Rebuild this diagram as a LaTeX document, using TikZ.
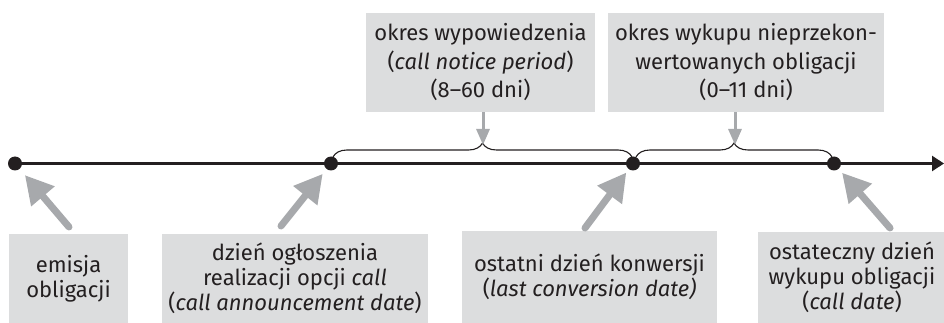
\documentclass[tikz,border=0pt]{standalone}
\usepackage{fontspec}
\setmainfont{Fira Sans}
\usetikzlibrary{arrows.meta,decorations.pathreplacing}
\definecolor{boxgray}{RGB}{220,221,222}
\definecolor{pointergray}{RGB}{167,169,172}
\definecolor{ink}{RGB}{35,31,32}

\begin{document}
\begin{tikzpicture}[x=1pt,y=-1pt,
  infobox/.style={fill=boxgray, inner sep=0pt, align=center, text=ink,
    font=\fontsize{22}{25}\selectfont},
  topbox/.style={infobox, font=\fontsize{22}{28.5}\selectfont},
  dot/.style={circle, fill=ink, inner sep=0pt, minimum size=14},
  axis/.style={draw=ink, line width=2.6, -{Triangle[length=12,width=15]}},
  span/.style={draw=ink, line width=1.1,
    decorate, decoration={brace, amplitude=14}},
  thinpointer/.style={draw=pointergray, line width=3,
    -{Triangle[length=16,width=13]}},
  fatpointer/.style={draw=pointergray, line width=7, line cap=round,
    -{Triangle[length=28,width=29]}},
]
\path[use as bounding box, clip] (0,0) rectangle (944,323);

% time axis
\coordinate (axisstart) at (15,163.5);
\coordinate (axisend) at (944,163.5);
\draw[axis] (axisstart) -- (axisend);

% events on the axis
\node[dot] (d0) at (15,163.5) {};
\node[dot] (d1) at (331,163.5) {};
\node[dot] (d2) at (633,163.5) {};
\node[dot] (d3) at (834,163.5) {};

% periods above the axis
\coordinate (b1l) at (333,157);
\coordinate (b1r) at (632,157);
\coordinate (b1tip) at (483,145);
\coordinate (b2l) at (636,157);
\coordinate (b2r) at (832,157);
\coordinate (b2tip) at (735,145);
\draw[span] (b1l) -- (b1r);
\draw[span] (b2l) -- (b2r);

\node[topbox, minimum width=229, minimum height=99] (np) at (480.5,62.5)
  {okres wypowiedzenia\\(\textit{call notice period})\\(8–60 dni)};
\node[topbox, minimum width=276, minimum height=99] (rp) at (746,62.5)
  {okres wykupu nieprzekon-\\wertowanych obligacji\\(0–11 dni)};

\draw[thinpointer] (np.south -| b1tip) -- (b1tip);
\draw[thinpointer] (rp.south -| b2tip) -- (b2tip);

% event descriptions below the axis
\node[infobox, minimum width=119, minimum height=89] (ea) at (68.5,278.5)
  {emisja\\obligacji};
\node[infobox, minimum width=266, minimum height=89] (eb) at (295,278.5)
  {dzień ogłoszenia\\realizacji opcji \textit{call}\\(\textit{call announcement date})};
\node[infobox, minimum width=255, minimum height=92] (ec) at (589.5,277)
  {ostatni dzień konwersji\\(\textit{last conversion date)}};
\node[infobox, minimum width=188, minimum height=91] (ed) at (852,277.5)
  {ostateczny dzień\\wykupu obligacji\\(\textit{call date})};

\coordinate (ta) at (69,227);
\coordinate (tb) at (281,226);
\coordinate (tc) at (585,228);
\coordinate (td) at (890,228);
\draw[fatpointer, shorten >=8] (ta) -- (d0);
\draw[fatpointer, shorten >=6] (tb) -- (d1);
\draw[fatpointer, shorten >=4] (tc) -- (d2);
\draw[fatpointer, shorten >=5] (td) -- (d3);
\end{tikzpicture}
\end{document}
